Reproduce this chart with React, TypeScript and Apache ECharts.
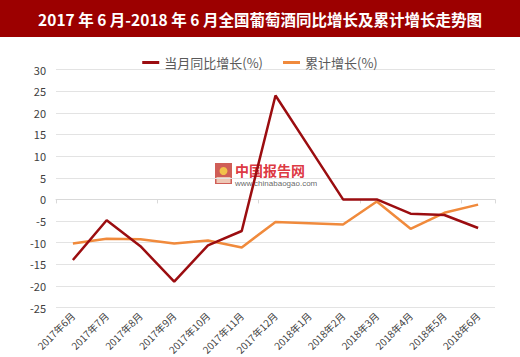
import React, { useEffect, useRef } from "react";
import * as echarts from "echarts";

const categories = [
  "2017年6月", "2017年7月", "2017年8月", "2017年9月", "2017年10月", "2017年11月",
  "2017年12月", "2018年1月", "2018年2月", "2018年3月", "2018年4月", "2018年5月", "2018年6月",
];
const monthlyYoY = [-14, -4.8, -10.8, -19, -10.6, -7.3, 24, 12, 0, 0, -3.3, -3.6, -6.6];
const cumulative = [-10.2, -9.1, -9.2, -10.2, -9.5, -11.1, -5.2, -5.5, -5.8, -0.5, -6.8, -3.1, -1.2];
const seriesNames = ["当月同比增长(%)", "累计增长(%)"];
const titleText = "2017 年 6 月-2018 年 6 月全国葡萄酒同比增长及累计增长走势图";

export default function App() {
  const ref = useRef<HTMLDivElement>(null);
  useEffect(() => {
    if (!ref.current) return;
    const chart = echarts.init(ref.current, null, { renderer: "svg" });
    const cjk = "'Noto Sans CJK SC', 'Noto Sans', sans-serif";
    chart.setOption({
      animation: false,
      backgroundColor: "#ffffff",
      textStyle: { fontFamily: cjk },
      legend: {
        top: 51,
        left: "center",
        itemWidth: 17,
        itemHeight: 3,
        itemGap: 20,
        icon: "rect",
        textStyle: { color: "#595959", fontSize: 13, fontFamily: cjk },
        data: seriesNames,
      },
      grid: { left: 56, right: 25, top: 69.5, bottom: 49, containLabel: false },
      xAxis: [
        {
          type: "category",
          data: categories,
          boundaryGap: true,
          position: "bottom",
          axisLine: { show: false, onZero: false },
          axisTick: { show: false },
          axisLabel: {
            rotate: 45,
            fontSize: 10,
            color: "#404040",
            interval: 0,
            margin: 6,
            fontFamily: cjk,
          },
        },
        {
          type: "category",
          data: categories,
          boundaryGap: true,
          position: "bottom",
          axisLine: { show: true, onZero: true, lineStyle: { color: "#d9d9d9", width: 1 } },
          axisTick: { show: true, length: 4, inside: false, lineStyle: { color: "#d9d9d9" } },
          axisLabel: { show: false },
        },
      ],
      yAxis: {
        type: "value",
        min: -25,
        max: 30,
        interval: 5,
        axisLine: { show: false },
        axisTick: { show: false },
        axisLabel: { fontSize: 11, color: "#404040", margin: 10, fontFamily: cjk },
        splitLine: { lineStyle: { color: "#e3e3e3", width: 1 } },
      },
      series: [
        {
          name: seriesNames[0],
          type: "line",
          data: monthlyYoY,
          xAxisIndex: 0,
          symbol: "none",
          color: "#9b0d10",
          lineStyle: { width: 2.5, color: "#9b0d10" },
          z: 3,
        },
        {
          name: seriesNames[1],
          type: "line",
          data: cumulative,
          xAxisIndex: 0,
          symbol: "none",
          color: "#f08a3c",
          lineStyle: { width: 2.5, color: "#f08a3c" },
          z: 2,
        },
      ],
      graphic: [
        {
          type: "rect",
          shape: { x: 0, y: 0, width: 520, height: 37 },
          style: { fill: "#9c0000" },
          z: 10,
        },
        {
          type: "text",
          x: 260,
          y: 19,
          style: {
            text: titleText,
            fill: "#ffffff",
            fontSize: 15.5,
            fontWeight: "bold",
            fontFamily: cjk,
            align: "center",
            verticalAlign: "middle",
          },
          z: 11,
        },
        {
          type: "group",
          x: 215,
          y: 163,
          z: 1,
          children: [
            { type: "rect", shape: { x: 0, y: 0, width: 17, height: 21 }, style: { fill: "#c8423a", opacity: 0.85 } },
            { type: "rect", shape: { x: 1.5, y: 14, width: 14, height: 6 }, style: { fill: "#f1d3c0", opacity: 0.9 } },
            { type: "circle", shape: { cx: 8.5, cy: 8, r: 4 }, style: { fill: "#f2c14b" } },
            {
              type: "text",
              x: 20,
              y: 0,
              style: { text: "中国报告网", fill: "#d9202a", fontSize: 14, fontWeight: "bold", fontFamily: cjk, opacity: 0.9, verticalAlign: "top" },
            },
            {
              type: "text",
              x: 20,
              y: 16,
              style: { text: "www.chinabaogao.com", fill: "#555555", fontSize: 8, fontFamily: "Arial, 'Liberation Sans', sans-serif", opacity: 0.9, verticalAlign: "top" },
            },
          ],
        },
      ],
    });
    return () => chart.dispose();
  }, []);
  return (
    <div
      ref={ref}
      style={{ position: "fixed", left: 0, top: 0, width: 520, height: 357 }}
    />
  );
}
